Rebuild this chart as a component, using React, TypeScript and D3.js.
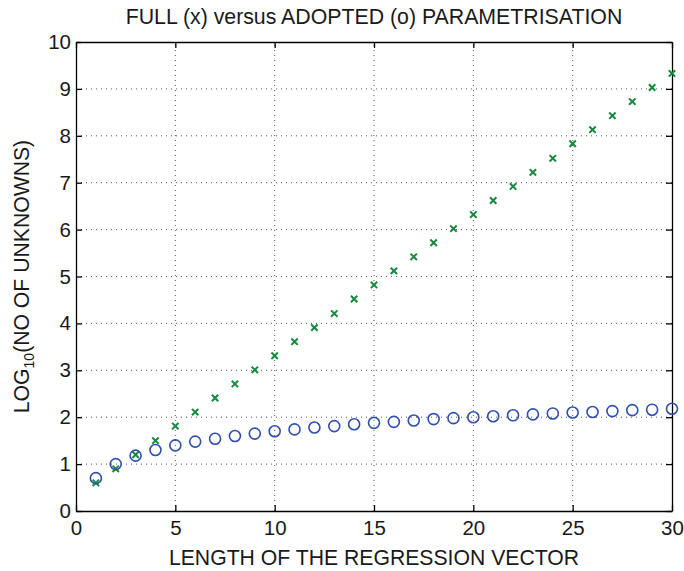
import { useEffect, useRef } from 'react';
import * as d3 from 'd3';

// Regression vector length (x) and log10 of number of unknowns
const lengths = [1, 2, 3, 4, 5, 6, 7, 8, 9, 10, 11, 12, 13, 14, 15, 16, 17, 18, 19, 20, 21, 22, 23, 24, 25, 26, 27, 28, 29, 30];
const fullValues = [0.6, 0.9, 1.2, 1.5, 1.81, 2.11, 2.41, 2.71, 3.01, 3.31, 3.61, 3.91, 4.21, 4.52, 4.82, 5.12, 5.42, 5.72, 6.02, 6.32, 6.62, 6.92, 7.22, 7.52, 7.83, 8.13, 8.43, 8.73, 9.03, 9.33];
const adoptedValues = [0.7, 1.0, 1.18, 1.3, 1.4, 1.48, 1.54, 1.6, 1.65, 1.7, 1.74, 1.78, 1.81, 1.85, 1.88, 1.9, 1.93, 1.96, 1.98, 2.0, 2.02, 2.04, 2.06, 2.08, 2.1, 2.11, 2.13, 2.15, 2.16, 2.18];
const xTicks = [0, 5, 10, 15, 20, 25, 30];
const yTicks = [0, 1, 2, 3, 4, 5, 6, 7, 8, 9, 10];

const W = 684;
const H = 571;
const margin = { top: 42, right: 12, bottom: 60, left: 76 };
const FONT = '"Liberation Sans", Arial, Helvetica, sans-serif';

export default function App() {
  const svgRef = useRef<SVGSVGElement>(null);

  useEffect(() => {
    const svg = d3.select(svgRef.current);
    svg.selectAll('*').remove();

    const x = d3.scaleLinear().domain([0, 30]).range([margin.left, W - margin.right]);
    const y = d3.scaleLinear().domain([0, 10]).range([H - margin.bottom, margin.top]);
    const [x0, x1] = x.range();
    const [y0, y1] = y.range();

    svg.append('rect').attr('width', W).attr('height', H).attr('fill', '#fff');

    // dotted grid
    const grid = svg.append('g').attr('stroke', '#555').attr('stroke-width', 1)
      .attr('stroke-dasharray', '1,4');
    grid.selectAll('.gx').data(xTicks.slice(1, -1)).join('line')
      .attr('x1', d => x(d)).attr('x2', d => x(d)).attr('y1', y0).attr('y2', y1);
    grid.selectAll('.gy').data(yTicks.slice(1, -1)).join('line')
      .attr('y1', d => y(d)).attr('y2', d => y(d)).attr('x1', x0).attr('x2', x1);

    // axes, ticks inside
    const tick = 6;
    const axBottom = svg.append('g').attr('transform', `translate(0,${y0})`)
      .call(d3.axisBottom(x).tickValues(xTicks).tickSizeInner(-tick).tickSizeOuter(0).tickPadding(9.5));
    const axLeft = svg.append('g').attr('transform', `translate(${x0},0)`)
      .call(d3.axisLeft(y).tickValues(yTicks).tickSizeInner(-tick).tickSizeOuter(0).tickPadding(5));
    const axTop = svg.append('g').attr('transform', `translate(0,${y1})`)
      .call(d3.axisTop(x).tickValues(xTicks).tickSizeInner(-tick).tickSizeOuter(0).tickFormat(() => ''));
    const axRight = svg.append('g').attr('transform', `translate(${x1},0)`)
      .call(d3.axisRight(y).tickValues(yTicks).tickSizeInner(-tick).tickSizeOuter(0).tickFormat(() => ''));
    [axBottom, axLeft, axTop, axRight].forEach(g => {
      g.select('.domain').attr('stroke', '#000').attr('stroke-width', 1.3);
      g.selectAll('.tick line').attr('stroke', '#000').attr('stroke-width', 1.3);
      g.selectAll('.tick text').attr('fill', '#1a1a1a').style('font-family', FONT).style('font-size', '20.5px');
    });

    // FULL parametrisation (x markers)
    const s = 3.2;
    svg.append('g').selectAll('path').data(lengths).join('path')
      .attr('d', (d, i) => {
        const cx = x(d), cy = y(fullValues[i]);
        return `M${cx - s},${cy - s}L${cx + s},${cy + s}M${cx - s},${cy + s}L${cx + s},${cy - s}`;
      })
      .attr('stroke', '#168a3e').attr('stroke-width', 2).attr('fill', 'none');

    // ADOPTED parametrisation (o markers)
    svg.append('g').selectAll('circle').data(lengths).join('circle')
      .attr('cx', d => x(d)).attr('cy', (d, i) => y(adoptedValues[i]))
      .attr('r', 5.5).attr('fill', 'none').attr('stroke', '#2f4fae').attr('stroke-width', 1.6);

    // title and labels
    svg.append('text').attr('x', (x0 + x1) / 2).attr('y', 24).attr('text-anchor', 'middle')
      .style('font-family', FONT).style('font-size', '21.3px').attr('fill', '#1a1a1a')
      .text('FULL (x) versus ADOPTED (o) PARAMETRISATION');

    svg.append('text').attr('x', (x0 + x1) / 2).attr('y', 565).attr('text-anchor', 'middle')
      .style('font-family', FONT).style('font-size', '21.2px').attr('fill', '#1a1a1a')
      .text('LENGTH OF THE REGRESSION VECTOR');

    const yl = svg.append('text')
      .attr('transform', `translate(29,${(y0 + y1) / 2}) rotate(-90)`)
      .attr('text-anchor', 'middle')
      .style('font-family', FONT).style('font-size', '21.2px').attr('fill', '#1a1a1a');
    yl.append('tspan').text('LOG');
    yl.append('tspan').attr('dy', 5).style('font-size', '14px').text('10');
    yl.append('tspan').attr('dy', -5).text('(NO OF UNKNOWNS)');
  }, []);

  return (
    <svg
      ref={svgRef}
      width={W}
      height={H}
      style={{ display: 'block', position: 'absolute', left: 0, top: 0 }}
    />
  );
}
